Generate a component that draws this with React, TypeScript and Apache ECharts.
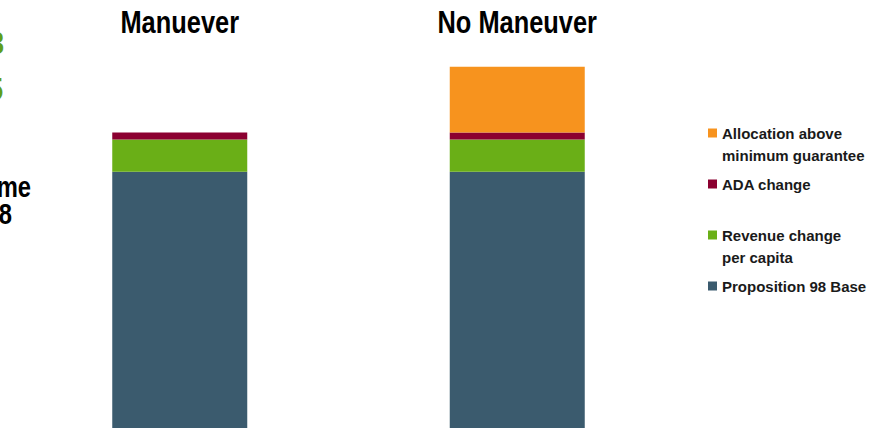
import React, { useEffect, useRef } from "react";
import * as echarts from "echarts";

const categories = ["Manuever", "No Maneuver"];
const seriesNames = [
  "Proposition 98 Base",
  "Revenue change per capita",
  "ADA change",
  "Allocation above minimum guarantee",
];
const legendLabels: Record<string, string> = {
  "Allocation above minimum guarantee": "\nAllocation above\nminimum guarantee",
  "ADA change": "ADA change",
  "Revenue change per capita": "\nRevenue change\nper capita",
  "Proposition 98 Base": "Proposition 98 Base",
};
const baseValues = [47.3, 47.3];
const revenueValues = [2.3, 2.3];
const adaValues = [0.5, 0.5];
const allocationValues = [0, 4.7];
const seriesColors = ["#3b5b6e", "#6aaf17", "#8b0030", "#f7931e"];
const sideTexts = ["2012-13", "2014-15", "Income", "98"];

const FONT = "'Liberation Sans', Arial, sans-serif";
const NARROW = 0.82;

export default function App() {
  const ref = useRef<HTMLDivElement>(null);
  useEffect(() => {
    if (!ref.current) return;
    const chart = echarts.init(ref.current, undefined, { renderer: "svg" });
    const values = [baseValues, revenueValues, adaValues, allocationValues];
    const sideText = (text: string, x: number, y: number, size: number, fill: string) => ({
      type: "text",
      x,
      y,
      scaleX: NARROW,
      style: { text, align: "right", verticalAlign: "middle", fontSize: size, fontWeight: "bold", fill, fontFamily: FONT },
    });
    chart.setOption({
      animation: false,
      grid: { left: 11, right: 198, top: 50, bottom: 66 },
      xAxis: {
        type: "category",
        data: categories,
        position: "top",
        axisLine: { show: false },
        axisTick: { show: false },
        axisLabel: { show: false },
      },
      yAxis: {
        type: "value",
        min: 0,
        max: 56,
        show: false,
        splitLine: { show: false },
      },
      legend: {
        orient: "vertical",
        left: 708,
        top: 100,
        padding: 0,
        itemGap: 7,
        itemWidth: 9,
        itemHeight: 9,
        icon: "rect",
        data: [...seriesNames].reverse(),
        formatter: (name: string) => legendLabels[name] ?? name,
        textStyle: {
          fontSize: 15,
          fontWeight: "bold",
          color: "#1a1a1a",
          lineHeight: 22,
          fontFamily: FONT,
        },
      },
      series: seriesNames.map((name, i) => ({
        name,
        type: "bar",
        stack: "total",
        barWidth: 135,
        data: values[i],
        itemStyle: { color: seriesColors[i] },
        emphasis: { disabled: true },
      })),
    });
    const titleGraphics = categories.map((cat) => {
      const raw = chart.convertToPixel({ xAxisIndex: 0 }, cat) as any;
      const px = Array.isArray(raw) ? raw[0] : raw;
      return {
        type: "text",
        x: px,
        y: 22,
        scaleX: NARROW,
        style: {
          text: cat,
          align: "center",
          verticalAlign: "middle",
          fontSize: 31,
          fontWeight: "bold",
          fill: "#000",
          fontFamily: FONT,
        },
      };
    });
    chart.setOption({
      graphic: [
        sideText(sideTexts[0], 4, 43, 32, "#5e9e1a"),
        sideText(sideTexts[1], 3, 89, 32, "#5e9e1a"),
        sideText(sideTexts[2], 31, 187, 29, "#000"),
        sideText(sideTexts[3], 12, 214, 29, "#000"),
        ...titleGraphics,
      ],
    });
    return () => chart.dispose();
  }, []);
  return (
    <div
      ref={ref}
      style={{ position: "fixed", left: 0, top: 0, width: 884, height: 900, background: "#fff" }}
    />
  );
}
